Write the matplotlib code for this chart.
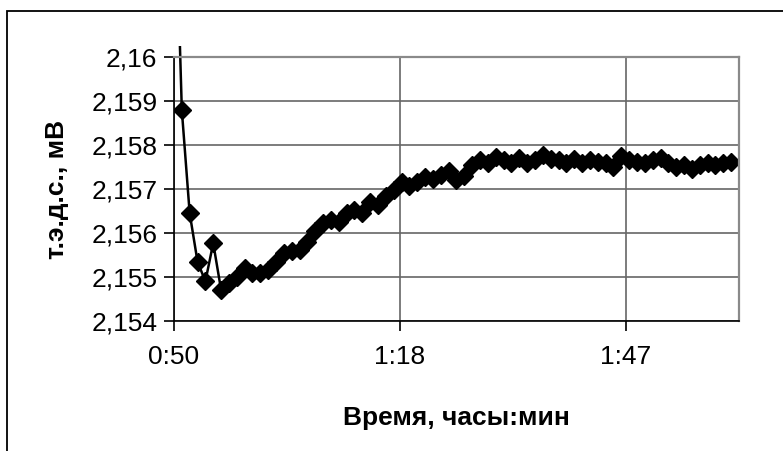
import numpy as np
import matplotlib
matplotlib.use("Agg")
import matplotlib.pyplot as plt
from matplotlib.patches import Rectangle
from matplotlib.ticker import FuncFormatter

plt.rcParams['font.family'] = ['Liberation Sans', 'DejaVu Sans']

# time, minutes from 0:00 (one reading per minute)
minutes = np.arange(50, 122)
# т.э.д.с., мВ
emf = [2.1648, 2.15879, 2.15645, 2.15535, 2.15490, 2.15577, 2.15471,
       2.15486, 2.15501, 2.15520, 2.15509, 2.15509, 2.15516, 2.15535,
       2.15554, 2.15558, 2.15562, 2.15580, 2.15605, 2.15622, 2.15630,
       2.15626, 2.15645, 2.15652, 2.15645, 2.15670, 2.15664, 2.15683,
       2.15698, 2.15717, 2.15707, 2.15717, 2.15728, 2.15722, 2.15732,
       2.15740, 2.15720, 2.15730, 2.15754, 2.15766, 2.15760, 2.15773,
       2.15765, 2.15760, 2.15770, 2.15760, 2.15765, 2.15778, 2.15768,
       2.15765, 2.15760, 2.15768, 2.15760, 2.15766, 2.15762, 2.15760,
       2.15750, 2.15775, 2.15765, 2.15762, 2.15760, 2.15765, 2.15770,
       2.15760, 2.15750, 2.15755, 2.15745, 2.15755, 2.15760, 2.15755,
       2.15760, 2.15762]

x_ticks = np.arange(50, 122, 28.8)
y_ticks = np.arange(2.154, 2.16001, 0.001)

fig = plt.figure(figsize=(7.83, 4.51), dpi=100)
ax = fig.add_axes([0.2222, 0.2882, 0.7216, 0.5854])

# outer chart frame (only left and top edges are inside the picture)
fig.patches.append(Rectangle((7 / 783, -0.2), 1.5, 1.2 - 11 / 451,
                             transform=fig.transFigure, fill=False,
                             edgecolor='black', linewidth=1.3))

line, = ax.plot(minutes, emf, color='black', linewidth=1.8, marker='D',
                markersize=9.5, markerfacecolor='black', markeredgecolor='black')
line.set_clip_path(Rectangle((0, 0), 1, 1.04, transform=ax.transAxes))

ax.set_xlim(50, 122)
ax.set_ylim(2.154, 2.16)
ax.set_xticks(x_ticks)
ax.set_yticks(y_ticks)
ax.xaxis.set_major_formatter(FuncFormatter(
    lambda v, p: "%d:%02d" % (int(v + 1e-6) // 60, int(v + 1e-6) % 60)))
ax.yaxis.set_major_formatter(FuncFormatter(
    lambda v, p: ("%.3f" % v).rstrip('0').replace('.', ',')))

ax.grid(True, color='#666666', linewidth=1.2)
ax.set_axisbelow(True)
for s in ['top', 'right']:
    ax.spines[s].set_color('#8a8a8a')
    ax.spines[s].set_linewidth(1.6)
for s in ['left', 'bottom']:
    ax.spines[s].set_color('black')
    ax.spines[s].set_linewidth(1.2)
ax.tick_params(direction='out', length=7, width=1.2, labelsize=19)
ax.tick_params(axis='y', pad=5)
ax.tick_params(axis='x', pad=10)

ax.set_xlabel('Время, часы:мин', fontsize=19, fontweight='bold', labelpad=27)
ax.set_ylabel('т.э.д.с., мВ', fontsize=19, fontweight='bold', labelpad=16)

fig.savefig('out.png', dpi=100)
